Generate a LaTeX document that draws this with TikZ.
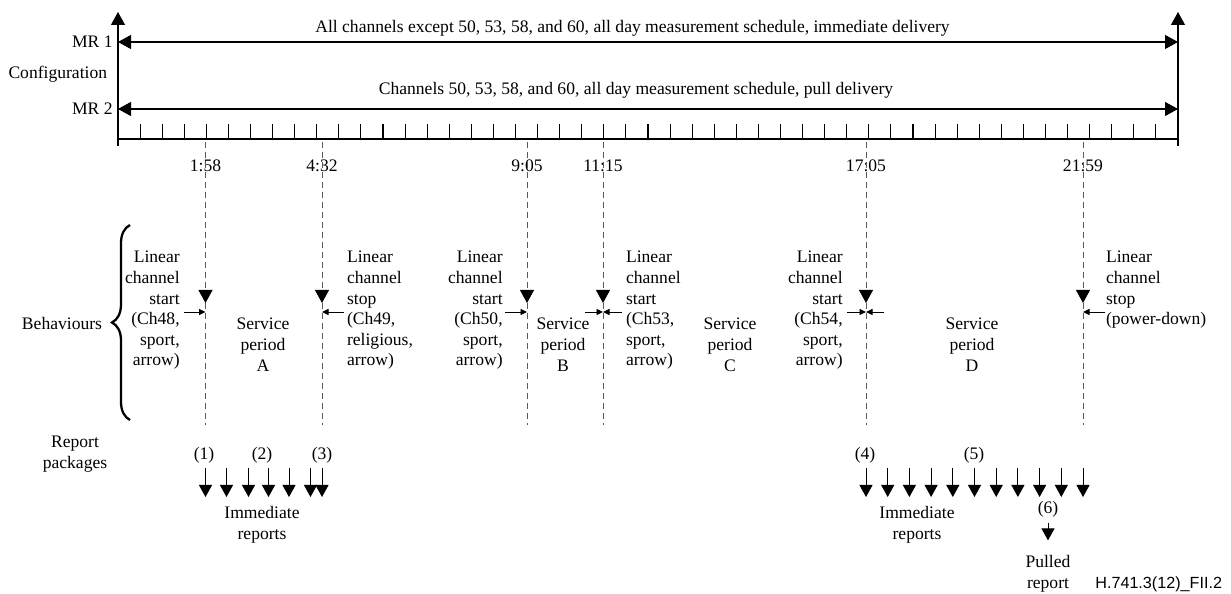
\documentclass[tikz,border=0pt]{standalone}
\usepackage{fontspec}
\setmainfont{Liberation Serif}
\newfontfamily\codefont{Liberation Sans}
\usetikzlibrary{arrows.meta,decorations.pathreplacing}

\begin{document}
\begin{tikzpicture}[
  x=2mm, y=2mm,
  every node/.style={font=\fontsize{10}{11.7}\selectfont, inner sep=0pt},
  axis/.style={line width=0.6pt},
  evline/.style={draw=black!65, line width=0.5pt, dash pattern=on 1.2mm off 0.8mm},
  bigtip/.style={-{Triangle[width=2.8mm,length=2.6mm,color=black]}},
  bothtips/.style={{Triangle[width=2.8mm,length=2.6mm]}-{Triangle[width=2.8mm,length=2.6mm]}},
  smalltip/.style={line width=0.5pt, -{Triangle[width=1.2mm,length=1.3mm]}},
  reptip/.style={line width=0.5pt, -{Triangle[width=2.6mm,length=2.4mm]}},
  startbox/.style={anchor=north east, align=right},
  stopbox/.style={anchor=north west, align=left},
  period/.style={anchor=north, align=center},
]
\useasboundingbox (0,0) rectangle (123.1,-59.4);

% Configuration axes
\coordinate (lbot) at (11.8,-14.6);
\coordinate (ltop) at (11.8,-1.2);
\coordinate (rbot) at (117.8,-14.6);
\coordinate (rtop) at (117.8,-1.2);
\coordinate (t0) at (11.8,-13.9);
\coordinate (t24) at (117.8,-13.9);
\draw[axis, bigtip] (lbot) -- (ltop);
\draw[axis, bigtip] (rbot) -- (rtop);
\draw[axis] (t0) -- (t24);
\foreach \k in {1,...,47}
  \draw[axis] ({11.8+\k*106/48},-13.9) -- ++(0,1.5);

\coordinate (mr1l) at (11.8,-4.2);
\coordinate (mr1r) at (117.8,-4.2);
\coordinate (mr2l) at (11.8,-10.9);
\coordinate (mr2r) at (117.8,-10.9);
\draw[axis, bothtips] (mr1l) -- (mr1r);
\draw[axis, bothtips] (mr2l) -- (mr2r);

\node[anchor=east] (mr1) at (11.3,-4.2) {MR 1};
\node (config) at (5.78,-7.4) {Configuration};
\node[anchor=east] (mr2) at (11.3,-10.9) {MR 2};
\node (cfg1) at (63.25,-2.8) {All channels except 50, 53, 58, and 60, all day measurement schedule, immediate delivery};
\node (cfg2) at (63.6,-9.0) {Channels 50, 53, 58, and 60, all day measurement schedule, pull delivery};

% Event times
\foreach \x/\t/\n in {20.55/1:58/1, 32.2/4:32/2, 52.7/9:05/3, 60.3/11:15/4, 86.6/17:05/5, 108.3/21:59/6}{
  \node (time\n) at (\x,-16.6) {\t};
  \coordinate (top\n) at (\x,-14.2);
  \coordinate (hit\n) at (\x,-30.3);
  \coordinate (tap\n) at (\x,-31.2);
  \coordinate (bot\n) at (\x,-42.5);
  \draw[evline, bigtip] (top\n) -- (hit\n);
  \draw[evline] (hit\n) -- (bot\n);
}

% Behaviour pointers
\draw[smalltip] ([xshift=-4.4mm]tap1) -- (tap1);
\draw[smalltip] ([xshift=4.4mm]tap2) -- (tap2);
\draw[smalltip] ([xshift=-4.4mm]tap3) -- (tap3);
\draw[smalltip] ([xshift=-3.6mm]tap4) -- (tap4);
\draw[smalltip] ([xshift=3.8mm]tap4) -- (tap4);
\draw[smalltip] ([xshift=-3.8mm]tap5) -- (tap5);
\draw[smalltip] ([xshift=3.6mm]tap5) -- (tap5);
\draw[smalltip] ([xshift=4.4mm]tap6) -- (tap6);

% Behaviours
\node (behav) at (6.2,-32.3) {Behaviours};
\draw[line width=1.3pt, decorate, decoration={brace, amplitude=3.6mm}] (13.0,-42.0) -- (13.0,-22.5);

\node[startbox] (ch48) at (18.0,-25.1) {Linear\\channel\\start\\(Ch48,\\sport,\\arrow)};
\node[stopbox] (ch49) at (34.67,-25.1) {Linear\\channel\\stop\\(Ch49,\\religious,\\arrow)};
\node[startbox] (ch50) at (50.3,-25.1) {Linear\\channel\\start\\(Ch50,\\sport,\\arrow)};
\node[stopbox] (ch53) at (62.57,-25.1) {Linear\\channel\\start\\(Ch53,\\sport,\\arrow)};
\node[startbox] (ch54) at (84.3,-25.1) {Linear\\channel\\start\\(Ch54,\\sport,\\arrow)};
\node[stopbox] (pwr) at (110.57,-25.1) {Linear\\channel\\stop\\(power-down)};

\node[period] (perA) at (26.3,-31.8) {Service\\period\\A};
\node[period] (perB) at (56.3,-31.8) {Service\\period\\B};
\node[period] (perC) at (73.0,-31.8) {Service\\period\\C};
\node[period] (perD) at (97.2,-31.8) {Service\\period\\D};

% Report packages
\node[align=center] (rep) at (7.5,-45.4) {Report\\packages};
\node (p1) at (20.4,-45.5) {(1)};
\node (p2) at (26.2,-45.5) {(2)};
\node (p3) at (32.2,-45.5) {(3)};
\node (p4) at (86.5,-45.5) {(4)};
\node (p5) at (97.4,-45.5) {(5)};
\foreach \x in {20.55,22.65,24.85,26.85,28.9,31.05,32.2}
  \draw[reptip] (\x,-46.8) -- (\x,-49.7);
\foreach \k in {0,...,10}
  \draw[reptip] ({86.6+\k*2.17},-46.8) -- ({86.6+\k*2.17},-49.7);
\node[align=center] (imm1) at (26.2,-52.5) {Immediate\\reports};
\node[align=center] (imm2) at (91.7,-52.5) {Immediate\\reports};

\node (p6) at (104.8,-50.9) {(6)};
\node[align=center] (pull) at (104.8,-57.4) {Pulled\\report};
\draw[reptip] ([yshift=-2.8mm]p6.center) -- ([yshift=3.0mm]pull.north);

\node[anchor=west, font=\codefont\fontsize{9.2}{11}\selectfont] (code) at (109.5,-58.4) {H.741.3(12)\_FII.2};

\end{tikzpicture}
\end{document}
